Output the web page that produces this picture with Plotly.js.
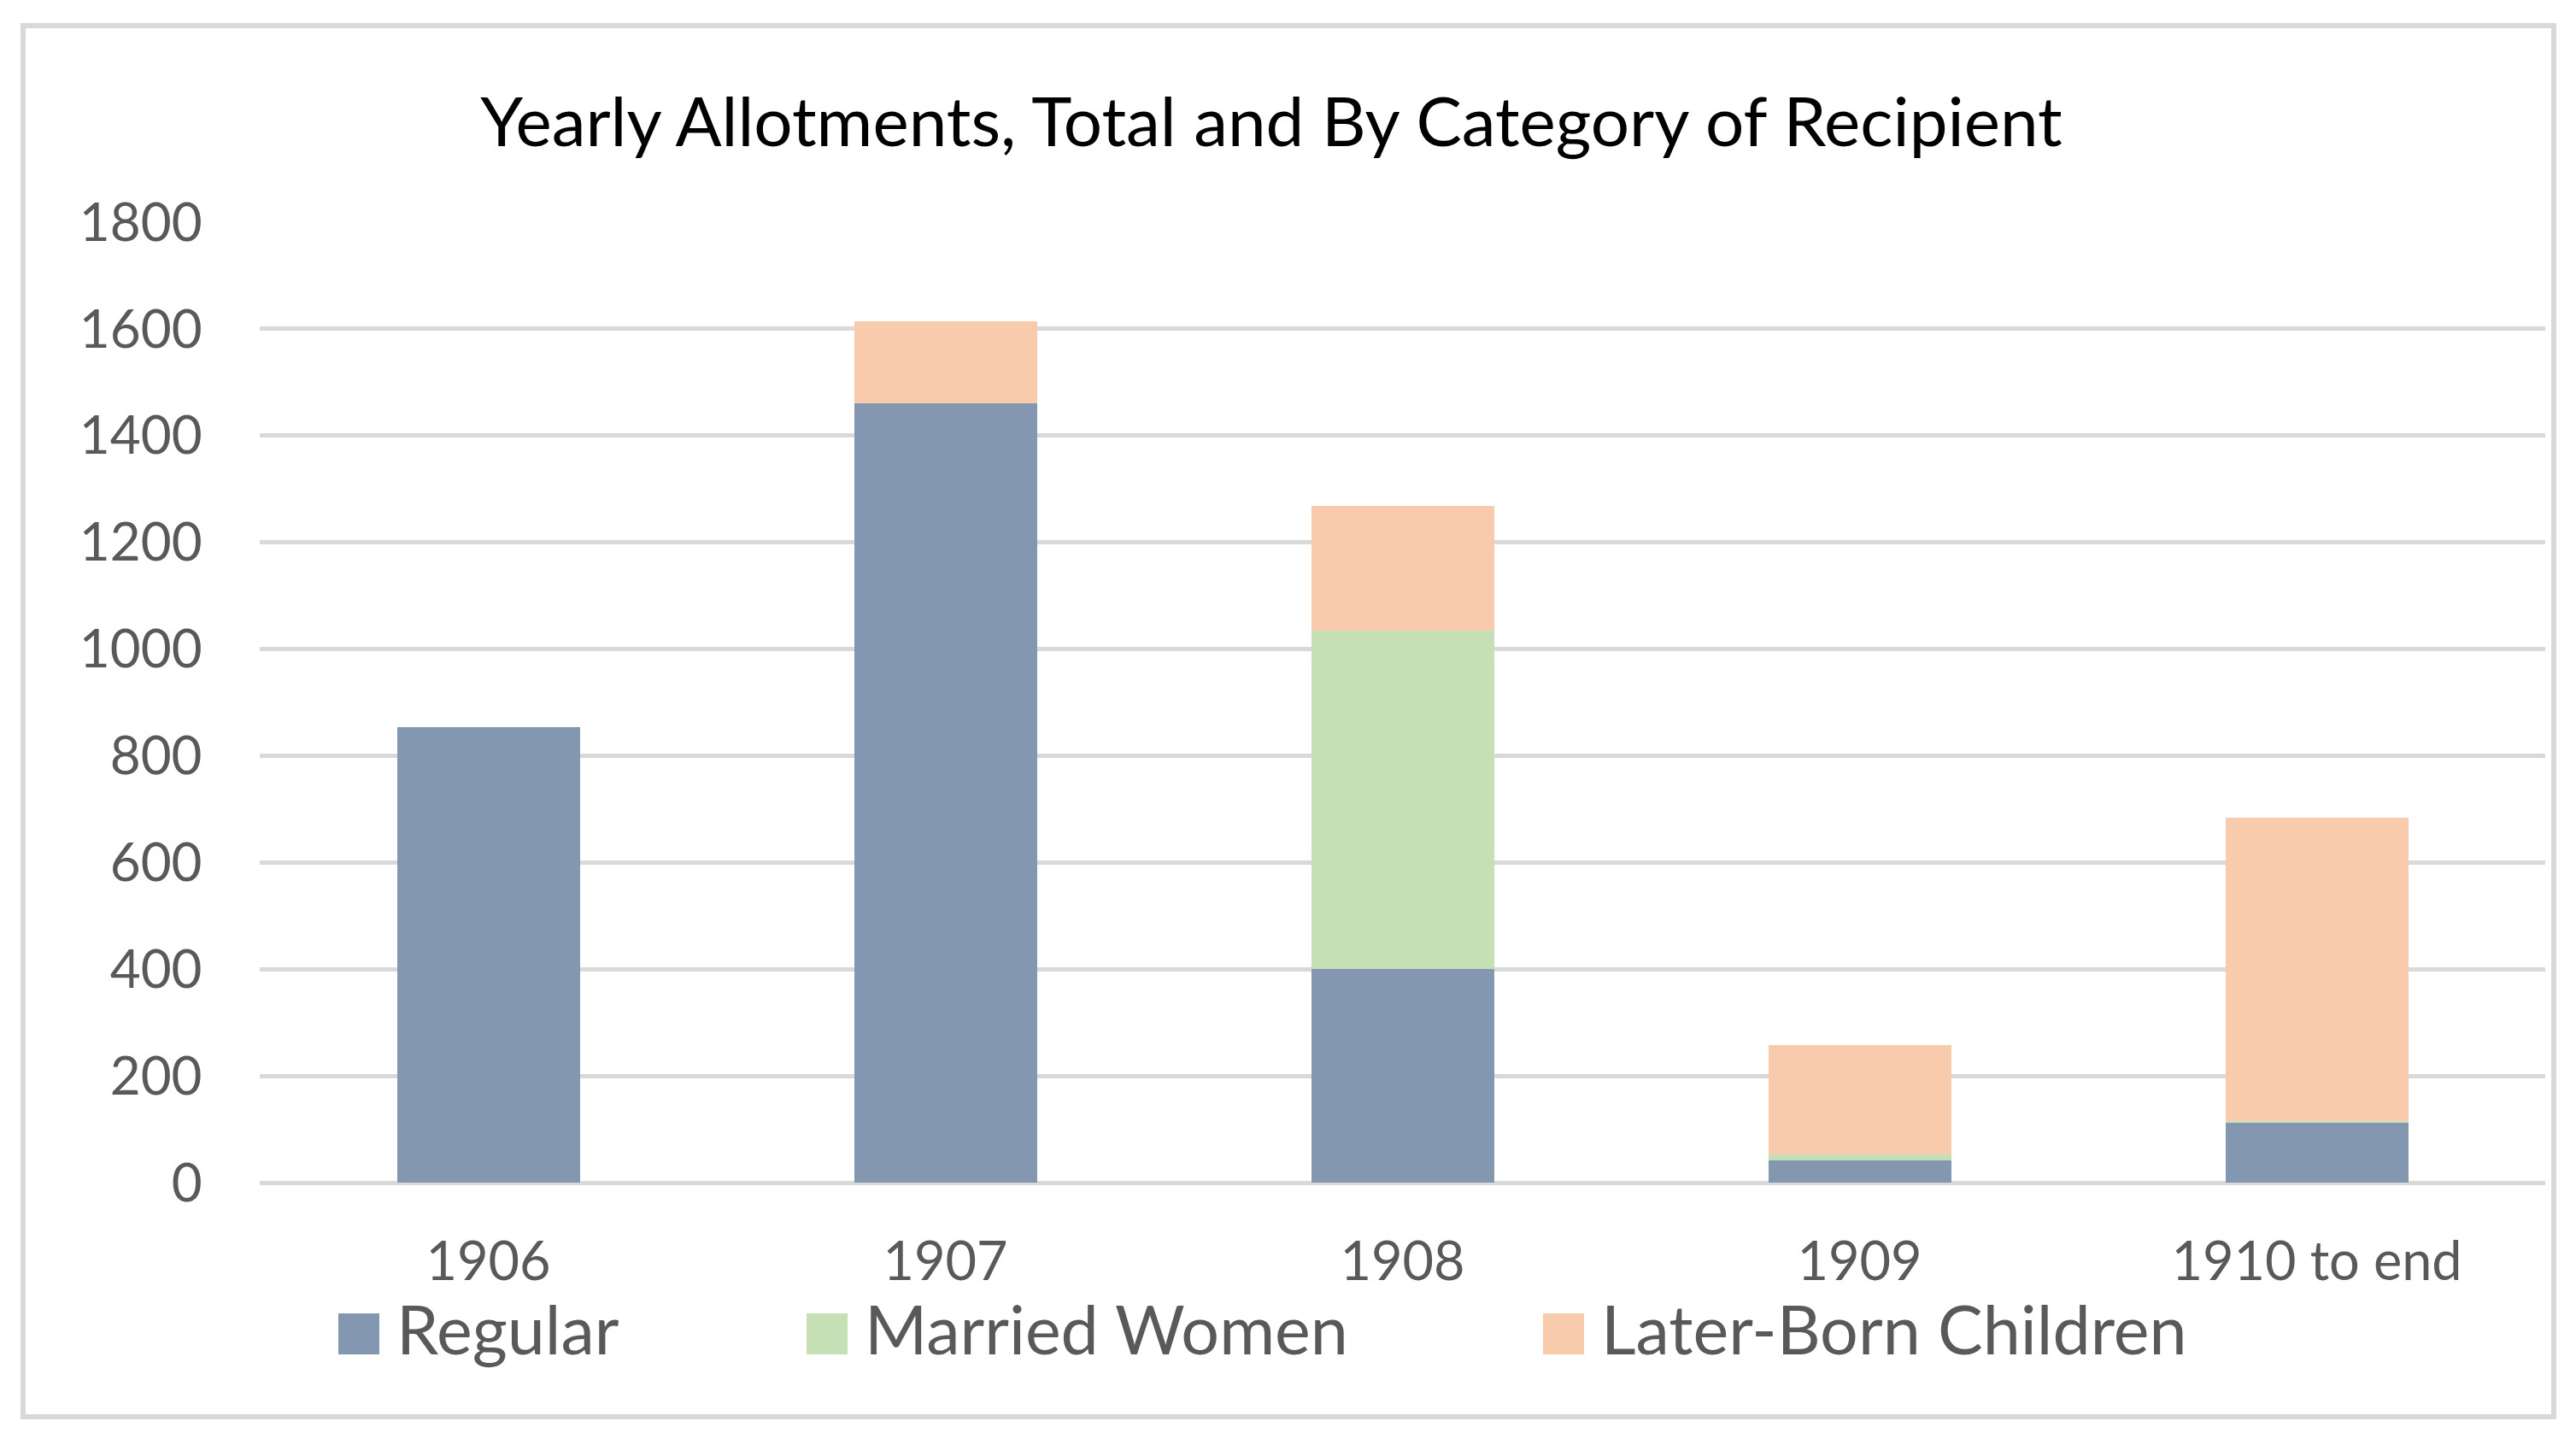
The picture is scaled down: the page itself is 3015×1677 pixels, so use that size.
<!DOCTYPE html>
<html>
<head>
<meta charset="utf-8">
<script src="https://cdn.plot.ly/plotly-3.0.1.min.js"></script>
<style>
  html, body { margin: 0; padding: 0; background: #ffffff; }
  #chart { width: 3015px; height: 1677px; }
</style>
</head>
<body>
<div id="chart"></div>
<script>
// ---- Data ----
const categories = ['1906', '1907', '1908', '1909', '1910 to end'];
const regular = [854, 1460, 400, 42, 112];
const marriedWomen = [0, 0, 634, 11, 3];
const laterBornChildren = [0, 154, 235, 205, 569];
const seriesNames = ['Regular', 'Married Women', 'Later-Born Children'];
const yTickValues = [0, 200, 400, 600, 800, 1000, 1200, 1400, 1600, 1800];
const chartTitle = 'Yearly Allotments, Total and By Category of Recipient';

// ---- Styles / layout constants ----
const seriesColors = ['#8497B0', '#C5E0B4', '#F8CBAD'];
const W = 3015, H = 1677;
const M = { l: 304, r: 36, t: 260, b: 293 };
const plotW = W - M.l - M.r, plotH = H - M.t - M.b;
const px2x = px => (px - M.l) / plotW;
const py2y = py => (H - M.b - py) / plotH;
const FONT = 'Lato, "Open Sans", sans-serif';
const legendItemX = [396, 944, 1806];   // pixel x of each legend swatch
const legendSwatch = 48;
const legendCenterY = 1561;

const seriesValues = [regular, marriedWomen, laterBornChildren];
const traces = seriesValues.map((vals, i) => ({
  type: 'bar',
  name: seriesNames[i],
  x: categories,
  y: vals,
  marker: { color: seriesColors[i], line: { width: 0 } },
  showlegend: false,
  hoverinfo: 'none'
}));

const shapes = [{
  type: 'rect', xref: 'paper', yref: 'paper',
  x0: px2x(27), x1: px2x(2989), y0: py2y(1658), y1: py2y(30),
  line: { color: '#D9D9D9', width: 6 }, fillcolor: 'rgba(0,0,0,0)', layer: 'below'
}];
const annotations = [];
seriesNames.forEach((n, i) => {
  const x0 = legendItemX[i];
  shapes.push({
    type: 'rect', xref: 'paper', yref: 'paper',
    x0: px2x(x0), x1: px2x(x0 + legendSwatch),
    y0: py2y(legendCenterY + legendSwatch / 2), y1: py2y(legendCenterY - legendSwatch / 2),
    line: { width: 0 }, fillcolor: seriesColors[i]
  });
  annotations.push({
    xref: 'paper', yref: 'paper', x: px2x(x0 + legendSwatch + 18), y: py2y(legendCenterY - 7),
    xanchor: 'left', yanchor: 'middle', showarrow: false, text: n,
    font: { family: FONT, size: 79, color: '#595959' }
  });
});

const layout = {
  width: W, height: H,
  margin: M,
  paper_bgcolor: '#ffffff', plot_bgcolor: '#ffffff',
  barmode: 'stack',
  bargap: 0.6,
  title: {
    text: chartTitle,
    x: 1488 / W, xref: 'container', xanchor: 'center',
    y: 1 - 143 / H, yref: 'container', yanchor: 'middle',
    font: { family: FONT, size: 80, color: '#000000' }
  },
  xaxis: {
    type: 'category',
    showgrid: false, showline: false, zeroline: false,
    ticks: 'outside', ticklen: 37, tickcolor: 'rgba(0,0,0,0)',
    tickfont: { family: FONT, size: 63, color: '#595959' }
  },
  yaxis: {
    range: [0, 1800],
    tickvals: yTickValues,
    ticktext: yTickValues.map(String),
    showgrid: true, gridcolor: '#D9D9D9', gridwidth: 5,
    zeroline: true, zerolinecolor: '#D9D9D9', zerolinewidth: 5,
    showline: false,
    ticks: 'outside', ticklen: 54, tickcolor: 'rgba(0,0,0,0)',
    tickfont: { family: FONT, size: 62, color: '#595959' }
  },
  shapes: shapes,
  annotations: annotations,
  showlegend: false
};

Plotly.newPlot('chart', traces, layout, { staticPlot: true, displayModeBar: false });
</script>
</body>
</html>
